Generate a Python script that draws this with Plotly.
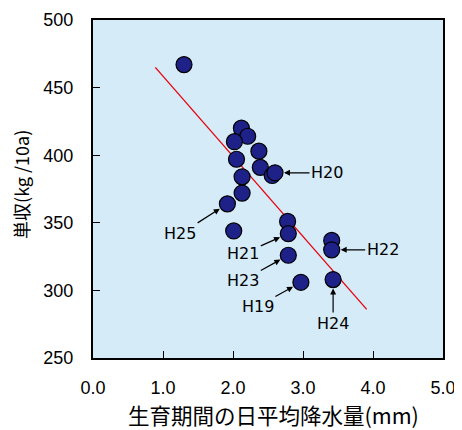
import plotly.graph_objects as go

# scatter data (daily mean precipitation mm, yield kg/10a)
precip = [1.30, 2.12, 2.21, 2.02, 2.37, 2.05, 2.39, 2.56, 2.60, 2.13,
          2.13, 1.92, 2.01, 2.78, 2.79, 2.79, 2.97, 3.41, 3.41, 3.43]
yield_ = [467, 420, 414, 410, 403, 397, 391, 385, 387, 384,
          372, 364, 344, 351, 342, 326, 306, 337, 330, 308]

# regression line end points
trend_x = [0.89, 3.91]
trend_y = [465, 286]

# labelled years
label_text = ["H20", "H25", "H21", "H23", "H19", "H22", "H24"]
label_x = [2.60, 1.92, 2.79, 2.79, 2.97, 3.41, 3.43]
label_y = [387, 364, 342, 326, 306, 330, 308]
label_ax = [52, -47, -45, -45, -43, 51, 0]
label_ay = [0, 30, 20, 25, 24, 0, 44]

x_ticks = [0, 1, 2, 3, 4, 5]
x_ticktext = ["0.0", "1.0", "2.0", "3.0", "4.0", "5.0"]
y_ticks = [250, 300, 350, 400, 450, 500]

x_title = "生育期間の日平均降水量(mm)"
y_title = "単収(kg /10a)"

fig = go.Figure()
fig.add_trace(go.Scatter(x=trend_x, y=trend_y, mode="lines",
                         line=dict(color="#e8000b", width=1.3),
                         hoverinfo="skip", showlegend=False))
fig.add_trace(go.Scatter(x=precip, y=yield_, mode="markers",
                         marker=dict(size=16, color="#1e2288",
                                     line=dict(color="#000000", width=1.2)),
                         showlegend=False))

for t, x, y, ax, ay in zip(label_text, label_x, label_y, label_ax, label_ay):
    fig.add_annotation(x=x, y=y, text=t, showarrow=True, ax=ax, ay=ay,
                       arrowhead=2, arrowsize=1, arrowwidth=1.2,
                       arrowcolor="#000000", standoff=9,
                       font=dict(family="DejaVu Sans", size=16, color="#000"))

# axis titles
fig.add_annotation(xref="paper", yref="paper", x=0.5157, y=-0.1686,
                   xanchor="center", yanchor="middle", showarrow=False,
                   text=x_title,
                   font=dict(family="Noto Sans CJK JP", size=21.5, color="#000"))
fig.add_annotation(xref="paper", yref="paper", x=-0.2057, y=0.512,
                   xanchor="center", yanchor="middle", showarrow=False,
                   textangle=-90, text=y_title,
                   font=dict(family="Noto Sans CJK JP", size=18, color="#000"))

font_main = "Liberation Sans, Arial, sans-serif"
fig.update_layout(
    width=454, height=422,
    margin=dict(l=85, r=19, t=12, b=72),
    paper_bgcolor="white",
    plot_bgcolor="#d5ebf8",
    font=dict(family=font_main, size=18, color="#000"),
    xaxis=dict(range=[0, 5], tickvals=x_ticks, ticktext=x_ticktext,
               ticks="inside", ticklen=7, tickcolor="#000", tickwidth=1,
               showgrid=False, zeroline=False, automargin=False,
               showline=True, linecolor="#000", linewidth=2, mirror=True,
               ticklabelstandoff=12),
    yaxis=dict(range=[250, 500], tickvals=y_ticks,
               ticks="inside", ticklen=7, tickcolor="#000", tickwidth=1,
               showgrid=False, zeroline=False, automargin=False,
               showline=True, linecolor="#000", linewidth=2, mirror=True,
               ticklabelstandoff=14),
)

fig.write_html("out.html")
